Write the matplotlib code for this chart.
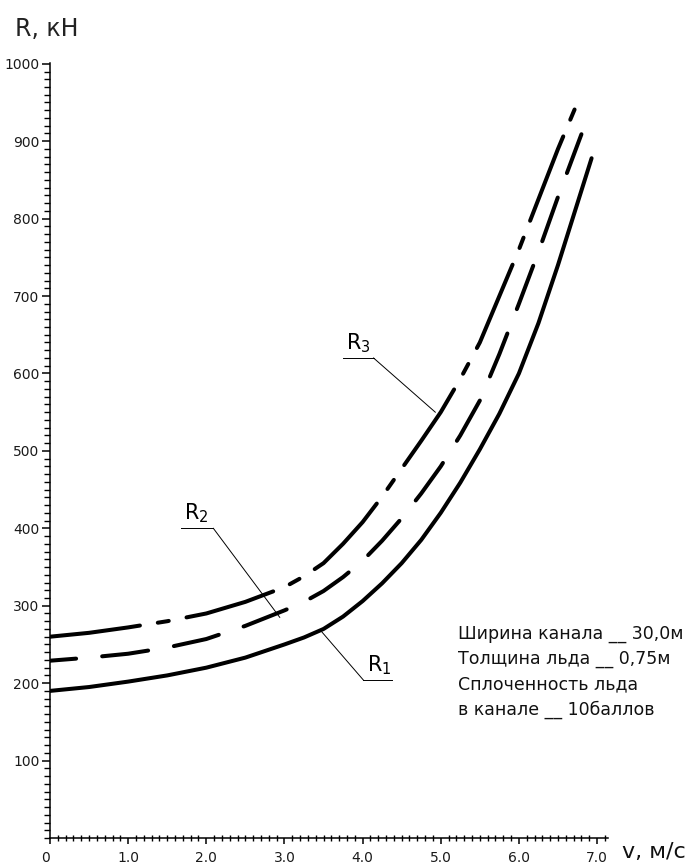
import matplotlib
matplotlib.use("Agg")
import matplotlib.pyplot as plt
from matplotlib.ticker import MultipleLocator, FixedLocator

plt.rcParams['font.family'] = ['DejaVu Sans']
plt.rcParams['mathtext.fontset'] = 'dejavusans'

# speed, m/s
v1 = [0, 0.5, 1.0, 1.5, 2.0, 2.5, 3.0, 3.25, 3.5, 3.75, 4.0, 4.25, 4.5, 4.75,
      5.0, 5.25, 5.5, 5.75, 6.0, 6.25, 6.5, 6.93]
v2 = [0, 0.5, 1.0, 1.5, 2.0, 2.5, 3.0, 3.25, 3.5, 3.75, 4.0, 4.25, 4.5, 4.75,
      5.0, 5.25, 5.5, 5.75, 6.0, 6.25, 6.5, 6.8]
v3 = [0, 0.5, 1.0, 1.5, 2.0, 2.5, 3.0, 3.25, 3.5, 3.75, 4.0, 4.25, 4.5, 4.75,
      5.0, 5.25, 5.5, 5.75, 6.0, 6.25, 6.5, 6.8]

# ice resistance, kN
r1 = [190, 195, 202, 210, 220, 233, 250, 259, 270, 286, 306, 329, 355, 385,
      420, 459, 502, 548, 600, 665, 740, 878]
r2 = [229, 233, 238, 246, 257, 274, 294, 305, 319, 337, 358, 384, 413, 445,
      480, 520, 565, 625, 690, 757, 828, 909]
r3 = [260, 265, 272, 280, 290, 305, 324, 338, 355, 380, 408, 441, 477, 513,
      550, 593, 640, 700, 760, 825, 890, 962]

xticks = [0, 1, 2, 3, 4, 5, 6, 7]
xlabels = ["0", "1.0", "2.0", "3.0", "4.0", "5.0", "6.0", "7.0"]
yticks = [100, 200, 300, 400, 500, 600, 700, 800, 900, 1000]

note = ["Ширина канала __ 30,0м",
        "Толщина льда __ 0,75м",
        "Сплоченность льда",
        "в канале __ 10баллов"]

fig = plt.figure(figsize=(6.95, 8.64), dpi=100)
ax = fig.add_axes([50 / 695, 26 / 864, 558 / 695, 775 / 864])

lw = 2.9
ax.plot(v1, r1, color='black', lw=lw, solid_capstyle='round',
        solid_joinstyle='round')
ax.plot(v2, r2, color='black', lw=lw, dash_capstyle='round',
        dash_joinstyle='round', linestyle=(5, (11.5, 6.5)))
ax.plot(v3, r3, color='black', lw=lw, dash_capstyle='round',
        dash_joinstyle='round', linestyle=(0, (22.5, 4.5, 2.75, 4.5)))

ax.set_xlim(0, 7.14)
ax.set_ylim(0, 1001)

for s in ['top', 'right']:
    ax.spines[s].set_visible(False)
for s in ['left', 'bottom']:
    ax.spines[s].set_linewidth(1.1)

ax.xaxis.set_major_locator(FixedLocator(xticks))
ax.set_xticklabels(xlabels)
ax.xaxis.set_minor_locator(MultipleLocator(0.1))
ax.yaxis.set_major_locator(FixedLocator(yticks))
ax.yaxis.set_minor_locator(MultipleLocator(10))

ax.tick_params(axis='x', which='major', direction='out', length=4, width=1.1,
               pad=5, labelsize=10, labelcolor='#1a1a1a')
ax.tick_params(axis='x', which='minor', direction='inout', length=5, width=1.0)
ax.tick_params(axis='y', which='major', direction='out', length=6, width=1.1,
               pad=1.5, labelsize=10, labelcolor='#1a1a1a')
ax.tick_params(axis='y', which='minor', direction='out', length=4, width=1.0)
ax.get_xticklabels()[0].set_horizontalalignment('right')

fig.text(15 / 695, 1 - 36 / 864, "R, кН", fontsize=17, color='#222222',
         ha='left', va='baseline')
fig.text(622 / 695, 1 - 858 / 864, "v, м/с", fontsize=16, color='#111111',
         ha='left', va='baseline')

# curve labels with leader lines
thin = dict(color='black', lw=0.7)
ax.plot([3.75, 4.14], [620, 620], **thin)
ax.plot([4.14, 4.93], [620, 550], **thin)
ax.text(3.79, 624, r"R$_3$", fontsize=15, ha='left', va='bottom')

ax.plot([1.68, 2.09], [400, 400], **thin)
ax.plot([2.09, 2.94], [400, 285], **thin)
ax.text(1.72, 404, r"R$_2$", fontsize=15, ha='left', va='bottom')

ax.plot([4.01, 4.37], [204, 204], **thin)
ax.plot([4.01, 3.48], [204, 266], **thin)
ax.text(4.05, 208, r"R$_1$", fontsize=15, ha='left', va='bottom')

for i, line in enumerate(note):
    ax.text(5.22, 258 - i * 33, line, fontsize=12.5, color='#111111',
            ha='left', va='baseline')

fig.savefig("out.png", dpi=100)
